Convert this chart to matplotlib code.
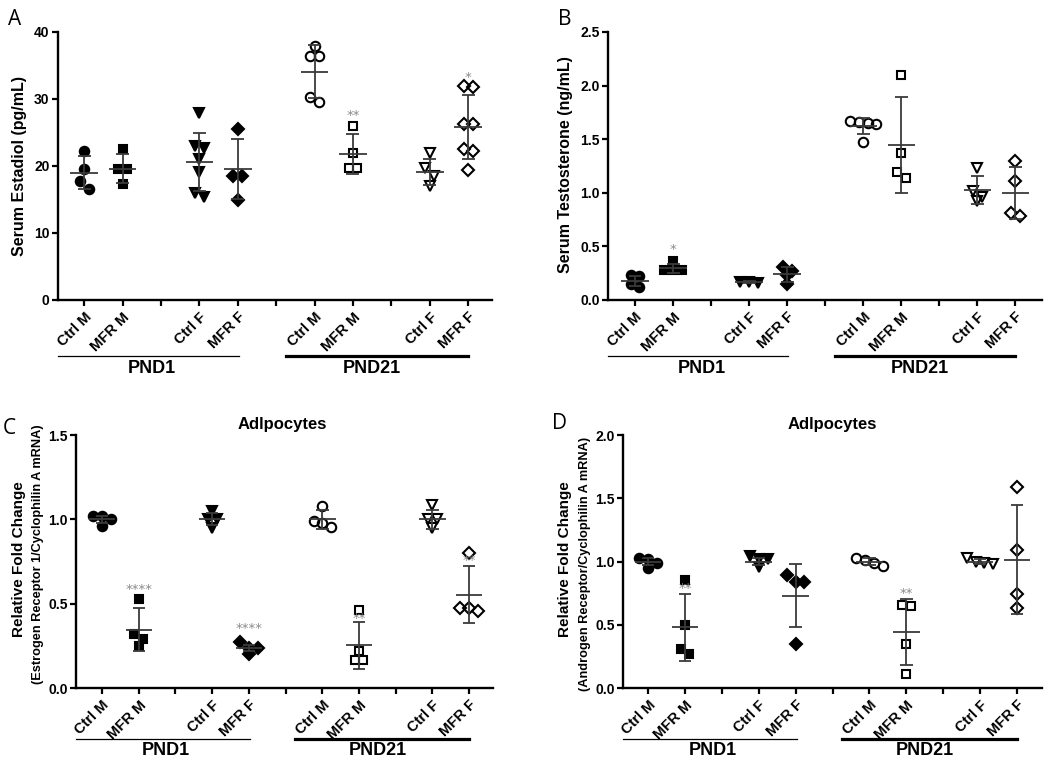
import numpy as np
import matplotlib
matplotlib.use('Agg')
import matplotlib.pyplot as plt
from matplotlib.transforms import blended_transform_factory

plt.rcParams['font.family'] = ['Liberation Sans', 'DejaVu Sans']

# ---------------- data ----------------
group_labels = ['Ctrl M', 'MFR M', 'Ctrl F', 'MFR F', 'Ctrl M', 'MFR M', 'Ctrl F', 'MFR F']
age_labels = ['PND1', 'PND21']

# Panel A: serum estradiol (pg/mL)
estradiol = [
    [22.2, 19.6, 17.7, 16.5],
    [22.6, 19.5, 19.5, 17.3],
    [27.9, 23.0, 22.7, 21.1, 19.1, 16.0, 15.4],
    [25.5, 18.5, 18.5, 14.9],
    [37.9, 36.4, 36.4, 30.3, 29.5],
    [26.0, 21.9, 19.7, 19.7],
    [22.0, 19.7, 18.5, 17.0],
    [31.9, 31.8, 26.2, 26.2, 22.5, 22.3, 19.4],
]
estradiol_mean = [19.0, 19.6, 20.6, 19.5, 34.1, 21.8, 19.1, 25.8]
estradiol_sd = [2.5, 2.2, 4.3, 4.5, 3.95, 3.0, 2.0, 4.8]
estradiol_stars = [(5, '**', 27.6), (7, '*', 33.2)]

# Panel B: serum testosterone (ng/mL)
testosterone = [
    [0.23, 0.22, 0.15, 0.12],
    [0.36, 0.28, 0.28, 0.28],
    [0.17, 0.17, 0.16],
    [0.31, 0.27, 0.23, 0.15],
    [1.67, 1.66, 1.65, 1.64, 1.47],
    [2.10, 1.37, 1.19, 1.14],
    [1.23, 1.02, 0.96, 0.92],
    [1.30, 1.11, 0.81, 0.78],
]
testosterone_mean = [0.177, 0.295, 0.165, 0.24, 1.62, 1.445, 1.03, 1.0]
testosterone_sd = [0.05, 0.04, 0.01, 0.07, 0.075, 0.45, 0.13, 0.245]
testosterone_stars = [(1, '*', 0.47)]

# Panel C: ESR1 / cyclophilin A mRNA
esr1 = [
    [1.02, 1.02, 1.00, 0.96],
    [0.53, 0.32, 0.29, 0.25],
    [1.05, 1.00, 1.00, 0.95],
    [0.27, 0.24, 0.24, 0.20],
    [1.08, 0.99, 0.98, 0.955],
    [0.46, 0.22, 0.165, 0.165],
    [1.085, 1.00, 1.00, 0.95],
    [0.80, 0.475, 0.475, 0.455],
]
esr1_mean = [1.0, 0.345, 1.0, 0.237, 1.0, 0.253, 1.0, 0.553]
esr1_sd = [0.02, 0.128, 0.035, 0.02, 0.055, 0.138, 0.055, 0.168]
esr1_stars = [(1, '****', 0.585), (3, '****', 0.35), (5, '**', 0.41), (7, '**', 0.755)]

# Panel D: AR / cyclophilin A mRNA
ar = [
    [1.03, 1.02, 0.99, 0.95],
    [0.85, 0.50, 0.31, 0.27],
    [1.045, 1.02, 1.02, 0.955],
    [0.895, 0.84, 0.84, 0.35],
    [1.03, 1.01, 0.99, 0.965],
    [0.655, 0.645, 0.345, 0.11],
    [1.03, 1.00, 0.99, 0.98],
    [1.59, 1.09, 0.745, 0.635],
]
ar_mean = [1.0, 0.48, 1.0, 0.73, 1.0, 0.44, 1.0, 1.013]
ar_sd = [0.03, 0.263, 0.03, 0.25, 0.025, 0.26, 0.02, 0.43]
ar_stars = [(1, '**', 0.79), (5, '**', 0.75)]

# ---------------- figure ----------------
FW, FH = 1050, 761
fig = plt.figure(figsize=(FW / 100, FH / 100), dpi=100)

positions = [1, 2, 4, 5, 7, 8, 10, 11]
marker_shapes = ['o', 's', 'v', 'D']
marker_sizes = {'o': 6.8, 's': 6.2, 'v': 7.4, 'D': 5.8}
line_color = '#3a3a3a'


def swarm(vals, p, pxx, pxy, d=8.3, dx=8.8):
    v = sorted(vals, reverse=True)
    rows = []
    for y in v:
        if rows and (rows[-1][0] - y) * pxy < d:
            rows[-1].append(y)
        else:
            rows.append([y])
    xs, ys = [], []
    for r in rows:
        n = len(r)
        for k, y in enumerate(r):
            xs.append(p + (k - (n - 1) / 2) * dx / pxx)
            ys.append(y)
    return xs, ys


def draw_panel(rect, xlim, ylim, yticks, yfmt, values, means, sds, stars,
               letter, letter_xy, top=True):
    ax = fig.add_axes(rect)
    ax.set_xlim(*xlim)
    ax.set_ylim(*ylim)
    w_px = rect[2] * FW
    h_px = rect[3] * FH
    pxx = w_px / (xlim[1] - xlim[0])
    pxy = h_px / (ylim[1] - ylim[0])

    for i, (vals, p) in enumerate(zip(values, positions)):
        m = marker_shapes[i % 4]
        filled = i < 4
        xs, ys = swarm(vals, p, pxx, pxy)
        ax.plot(xs, ys, linestyle='none', marker=m, ms=marker_sizes[m],
                mfc='black' if filled else 'none', mec='black', mew=1.5,
                zorder=2, clip_on=False)
        mu, sd = means[i], sds[i]
        ax.hlines(mu, p - 0.36, p + 0.36, color=line_color, lw=1.3, zorder=3)
        ax.vlines(p, mu - sd, mu + sd, color=line_color, lw=1.3, zorder=3)
        ax.hlines([mu - sd, mu + sd], p - 0.17, p + 0.17, color=line_color,
                  lw=1.3, zorder=3)

    for gi, s, y in stars:
        ax.text(positions[gi], y, s, ha='center', va='center',
                color='#8a8a8a', fontsize=9.5, fontweight='normal',
                family='DejaVu Sans')

    for side in ('top', 'right'):
        ax.spines[side].set_visible(False)
    for side in ('left', 'bottom'):
        ax.spines[side].set_linewidth(1.7)
    ax.set_yticks(yticks)
    ax.set_yticklabels([yfmt.format(t) for t in yticks], fontweight='bold',
                       fontsize=10)
    xt = list(range(1, 12))
    xl = []
    for t in xt:
        if t in positions:
            xl.append(group_labels[positions.index(t)])
        else:
            xl.append('')
    ax.set_xticks(xt)
    ax.set_xticklabels(xl, rotation=45, ha='right', va='top',
                       rotation_mode='anchor', fontweight='bold', fontsize=10.5)
    ax.tick_params(axis='both', length=4, width=1.6, pad=2)
    ax.tick_params(axis='x', pad=3)

    trans = blended_transform_factory(ax.transData, ax.transAxes)
    ly = -0.208 if top else -0.203
    ty = -0.254 if top else -0.247
    ax.plot([xlim[0], 5.03], [ly, ly], transform=trans, clip_on=False,
            color='black', lw=0.9)
    ax.plot([6.25, 11.0], [ly, ly], transform=trans, clip_on=False,
            color='black', lw=2.3)
    ax.text(2.75, ty, age_labels[0], transform=trans, ha='center', va='center',
            fontsize=13, fontweight='bold')
    ax.text(8.5, ty, age_labels[1], transform=trans, ha='center', va='center',
            fontsize=13, fontweight='bold')

    fig.text(letter_xy[0] / FW, 1 - letter_xy[1] / FH, letter, fontsize=15,
             family='Open Sans', ha='left', va='baseline')
    return ax


# Panel A
axA = draw_panel([58 / FW, 1 - 300 / FH, 434 / FW, 268 / FH], (0.32, 11.62),
                 (0, 40), [0, 10, 20, 30, 40], '{:.0f}', estradiol,
                 estradiol_mean, estradiol_sd, estradiol_stars, 'A', (8, 25))
axA.text(-0.089, 0.5, 'Serum Estadiol (pg/mL)', transform=axA.transAxes,
         rotation=90, ha='center', va='center', fontsize=11.5, fontweight='bold')

# Panel B
axB = draw_panel([608 / FW, 1 - 300 / FH, 434 / FW, 268 / FH], (0.29, 11.7),
                 (0, 2.5), [0, 0.5, 1.0, 1.5, 2.0, 2.5], '{:.1f}', testosterone,
                 testosterone_mean, testosterone_sd, testosterone_stars, 'B',
                 (558, 25))
axB.text(-0.098, 0.504, 'Serum Testosterone (ng/mL)', transform=axB.transAxes,
         rotation=90, ha='center', va='center', fontsize=11.5, fontweight='bold')

# Panel C
axC = draw_panel([76 / FW, 1 - 688 / FH, 417 / FW, 253 / FH], (0.29, 11.65),
                 (0, 1.5), [0, 0.5, 1.0, 1.5], '{:.1f}', esr1, esr1_mean,
                 esr1_sd, esr1_stars, 'C', (3, 434), top=False)
axC.text(-0.137, 0.51, 'Relative Fold Change', transform=axC.transAxes,
         rotation=90, ha='center', va='center', fontsize=11, fontweight='bold')
axC.text(-0.092, 0.53, '(Estrogen Receptor 1/Cyclophilin A mRNA)',
         transform=axC.transAxes, rotation=90, ha='center', va='center',
         fontsize=9.2, fontweight='bold')
axC.text(0.494, 1 + 6 / 253, 'Adlpocytes', transform=axC.transAxes,
         ha='center', va='baseline', fontsize=12, fontweight='bold')

# Panel D
axD = draw_panel([623 / FW, 1 - 688 / FH, 419 / FW, 253 / FH], (0.32, 11.68),
                 (0, 2.0), [0, 0.5, 1.0, 1.5, 2.0], '{:.1f}', ar, ar_mean,
                 ar_sd, ar_stars, 'D', (552, 429), top=False)
axD.text(-0.138, 0.51, 'Relative Fold Change', transform=axD.transAxes,
         rotation=90, ha='center', va='center', fontsize=11, fontweight='bold')
axD.text(-0.091, 0.49, '(Androgen Receptor/Cyclophilin A mRNA)',
         transform=axD.transAxes, rotation=90, ha='center', va='center',
         fontsize=9.2, fontweight='bold')
axD.text(0.50, 1 + 6 / 253, 'Adlpocytes', transform=axD.transAxes,
         ha='center', va='baseline', fontsize=12, fontweight='bold')

fig.savefig('out.png', dpi=100)
